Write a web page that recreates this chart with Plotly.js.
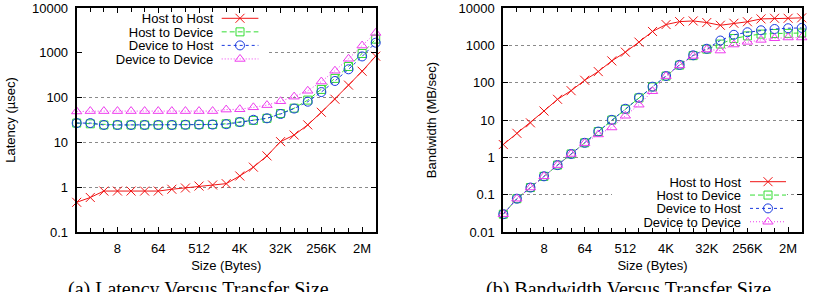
<!DOCTYPE html>
<html>
<head>
<meta charset="utf-8">
<script src="https://cdn.plot.ly/plotly-3.0.1.min.js"></script>
<style>
  html, body { margin: 0; padding: 0; background: #fff; }
  #chart { width: 814px; height: 292px; }
</style>
</head>
<body>
<div id="chart"></div>
<script>
// ---------------- data ----------------
const sizes = [1, 2, 4, 8, 16, 32, 64, 128, 256, 512, 1024, 2048, 4096, 8192, 16384,
  32768, 65536, 131072, 262144, 524288, 1048576, 2097152, 4194304];

const seriesNames = ['Host to Host', 'Host to Device', 'Device to Host', 'Device to Device'];

// Latency (usec)
const latHostToHost = [0.46, 0.59, 0.82, 0.82, 0.82, 0.82, 0.82, 0.9, 0.96, 1.06, 1.12, 1.2,
  1.78, 2.8, 5.0, 10.4, 14.6, 24.6, 47, 92, 190, 388, 840];
const latHostToDevice = [27, 26, 24.5, 24.5, 24.5, 24.5, 24.5, 24.5, 24.7, 25, 25.2, 26,
  28.5, 31, 34.5, 44, 58, 88, 152, 268, 495, 965, 2020];
const latDeviceToHost = [27, 27, 24.5, 24.5, 24.5, 24.5, 24.5, 24.5, 24.7, 25, 25, 25.5,
  28.5, 32, 34.5, 43, 57, 81, 133, 235, 428, 830, 1680];
const latDeviceToDevice = [49, 50, 50, 50, 50, 50, 50, 50, 50, 50, 50, 54,
  55, 60.7, 68, 83, 105, 142, 228, 398, 735, 1450, 2780];

// Bandwidth (MB/sec)
const bwHostToHost = [2.2, 4.4, 8.4, 17.4, 35.8, 61, 116, 198, 383, 656, 1220, 2350,
  3600, 4320, 4500, 4080, 3450, 3900, 4280, 5100, 5300, 5300, 5450];
const bwHostToDevice = [0.03, 0.078, 0.155, 0.31, 0.62, 1.23, 2.45, 4.9, 10, 19.5, 39, 77,
  150, 295, 530, 790, 1080, 1520, 1790, 2000, 2070, 2090, 2140];
const bwDeviceToHost = [0.03, 0.078, 0.155, 0.31, 0.62, 1.23, 2.45, 4.9, 10.1, 20, 39.5, 78,
  151, 300, 540, 810, 1345, 1915, 2240, 2530, 2740, 2870, 2930];
const bwDeviceToDevice = [0.03, 0.078, 0.155, 0.31, 0.62, 1.23, 2.4, 4.1, 6.3, 13, 25.7, 59,
  150, 290, 520, 775, 725, 1050, 1240, 1400, 1550, 1620, 1620];

// ticks
const xTickVals = [8, 64, 512, 4096, 32768, 262144, 2097152];
const xTickText = ['8', '64', '512', '4K', '32K', '256K', '2M'];
const latTickVals = [0.1, 1, 10, 100, 1000, 10000];
const latTickText = ['0.1', '1', '10', '100', '1000', '10000'];
const bwTickVals = [0.01, 0.1, 1, 10, 100, 1000, 10000];
const bwTickText = ['0.01', '0.1', '1', '10', '100', '1000', '10000'];

const titles = {
  x: 'Size (Bytes)',
  latency: 'Latency (µsec)',
  bandwidth: 'Bandwidth (MB/sec)',
  capA: '(a) Latency Versus Transfer Size',
  capB: '(b) Bandwidth Versus Transfer Size'
};

// ---------------- styles ----------------
const styles = [
  {color: '#f01414', dash: 'solid', symbol: 'x-thin-open', size: 9},
  {color: '#33dd33', dash: '5px,3px', symbol: 'square-open', size: 8},
  {color: '#1a3adf', dash: '3px,3px', symbol: 'circle-open', size: 9},
  {color: '#ee3cee', dash: '1px,2px', symbol: 'triangle-up-open', size: 9}
];

function mk(name, ys, st, xa, ya, lg) {
  return {
    type: 'scatter', mode: 'lines+markers', name: name,
    x: sizes, y: ys, xaxis: xa, yaxis: ya, legend: lg,
    cliponaxis: false,
    line: {color: st.color, width: 1, dash: st.dash},
    marker: {symbol: st.symbol, size: st.size, color: st.color,
             line: {color: st.color, width: 1}}
  };
}

const latSeries = [latHostToHost, latHostToDevice, latDeviceToHost, latDeviceToDevice];
const bwSeries = [bwHostToHost, bwHostToDevice, bwDeviceToHost, bwDeviceToDevice];
const traces = [];
latSeries.forEach((s, i) => traces.push(mk(seriesNames[i], s, styles[i], 'x', 'y', 'legend')));
bwSeries.forEach((s, i) => traces.push(mk(seriesNames[i], s, styles[i], 'x2', 'y2', 'legend2')));

const W = 814;
const font = {family: 'Liberation Sans, Arial, Helvetica, sans-serif', size: 13, color: '#000'};

function xAxis(dom, anchor) {
  return {
    domain: dom, anchor: anchor, type: 'log',
    range: [0, Math.log10(4194304)],
    tickmode: 'array', tickvals: xTickVals, ticktext: xTickText,
    ticks: 'inside', ticklen: 5, tickwidth: 1, tickcolor: '#000',
    minor: {tickmode: 'array', tickvals: sizes, ticks: 'inside', ticklen: 4, tickwidth: 1, tickcolor: '#000', showgrid: false},
    showline: true, linewidth: 2, linecolor: '#000', mirror: 'ticks',
    showgrid: false, zeroline: false, automargin: false,
    ticklabelstandoff: 3,
    tickfont: font,
    title: {text: titles.x, font: font, standoff: 6}
  };
}
function yAxis(range, tv, tt, title, anchor, standoff) {
  return {
    domain: [0, 1], anchor: anchor, type: 'log', range: range,
    tickmode: 'array', tickvals: tv, ticktext: tt,
    ticks: 'inside', ticklen: 5, tickwidth: 1, tickcolor: '#000',
    showline: true, linewidth: 2, linecolor: '#000', mirror: 'ticks',
    showgrid: true, gridcolor: '#8a8a8a', gridwidth: 1, griddash: 'dot',
    zeroline: false, automargin: false,
    ticklabelstandoff: 4,
    tickfont: font,
    title: {text: title, font: font, standoff: standoff}
  };
}

const legendCommon = {bgcolor: '#ffffff', borderwidth: 0, font: font, tracegroupgap: 0,
  xref: 'paper', yref: 'paper', xanchor: 'left', yanchor: 'top'};

const capFont = {family: 'Liberation Serif, Times New Roman, serif', size: 20, color: '#000'};

const layout = {
  width: 814, height: 292,
  margin: {l: 0, r: 0, t: 8, b: 60, pad: 0},
  paper_bgcolor: '#fff', plot_bgcolor: '#fff',
  font: font,
  showlegend: true,
  xaxis: xAxis([76.7 / W, 375.7 / W], 'y'),
  yaxis: yAxis([-1, 4], latTickVals, latTickText, titles.latency, 'x', 13),
  xaxis2: xAxis([503.3 / W, 801.7 / W], 'y2'),
  yaxis2: yAxis([-2, 4], bwTickVals, bwTickText, titles.bandwidth, 'x2', 19),
  legend: Object.assign({x: 0.15, y: 0.98}, legendCommon),
  legend2: Object.assign({x: 0.78, y: 0.25}, legendCommon),
  annotations: [
    {text: titles.capA, xref: 'paper', yref: 'paper', x: 198 / W, y: (232 - 275.5) / 224,
     xanchor: 'center', yanchor: 'top', showarrow: false, font: capFont},
    {text: titles.capB, xref: 'paper', yref: 'paper', x: 628 / W, y: (232 - 275.5) / 224,
     xanchor: 'center', yanchor: 'top', showarrow: false, font: capFont}
  ]
};

// Gnuplot-style key: label right-aligned, sample (line + point) on the right.
const keyCfg = {
  legend: {textRight: 213.3, y0: 18.3, dy: 13.55, lineX0: 221.7, lineLen: 36.7, symX: 240,
    bg: [83, 13, 266, 66]},
  legend2: {textRight: 741, y0: 181.7, dy: 13.35, lineX0: 750, lineLen: 36, symX: 768,
    bg: [612, 172, 787, 228]}
};

function gnuplotKey(gd, id, cfg) {
  const lg = gd.querySelector('.infolayer g.' + id);
  if (!lg) return;
  lg.setAttribute('transform', 'translate(0,0)');
  const bg = lg.querySelector('rect.bg');
  if (bg) {
    bg.setAttribute('x', cfg.bg[0]); bg.setAttribute('y', cfg.bg[1]);
    bg.setAttribute('width', cfg.bg[2] - cfg.bg[0]); bg.setAttribute('height', cfg.bg[3] - cfg.bg[1]);
    bg.style.fill = '#fff'; bg.style.strokeWidth = '0px';
  }
  const sb = lg.querySelector('g.scrollbox');
  if (sb) { sb.removeAttribute('clip-path'); sb.setAttribute('transform', 'translate(0,0)'); }
  lg.querySelectorAll('g.groups').forEach(g => g.setAttribute('transform', 'translate(0,0)'));
  const sc = lg.querySelector('rect.scrollbar'); if (sc) sc.style.display = 'none';
  lg.querySelectorAll('g.traces').forEach((t, i) => {
    t.setAttribute('transform', 'translate(0,' + (cfg.y0 + i * cfg.dy) + ')');
    t.querySelectorAll('text').forEach(txt => {
      txt.setAttribute('x', cfg.textRight);
      txt.setAttribute('text-anchor', 'end');
      txt.style.textAnchor = 'end';
      txt.querySelectorAll('tspan').forEach(ts => { if (ts.hasAttribute('x')) ts.setAttribute('x', cfg.textRight); });
    });
    t.querySelectorAll('g.legendlines path').forEach(p => p.setAttribute('d', 'M' + cfg.lineX0 + ',0h' + cfg.lineLen));
    t.querySelectorAll('g.legendpoints path.scatterpts, g.legendsymbols path').forEach(p =>
      p.setAttribute('transform', 'translate(' + cfg.symX + ',0)'));
    const tog = t.querySelector('rect.legendtoggle'); if (tog) tog.style.display = 'none';
  });
}

function fixKeys() {
  const gd = document.getElementById('chart');
  Object.keys(keyCfg).forEach(id => gnuplotKey(gd, id, keyCfg[id]));
}

Plotly.newPlot('chart', traces, layout, {displayModeBar: false, staticPlot: true}).then(() => {
  fixKeys();
  requestAnimationFrame(fixKeys);
  [30, 100, 250, 500, 1000].forEach(t => setTimeout(fixKeys, t));
});
</script>
</body>
</html>
